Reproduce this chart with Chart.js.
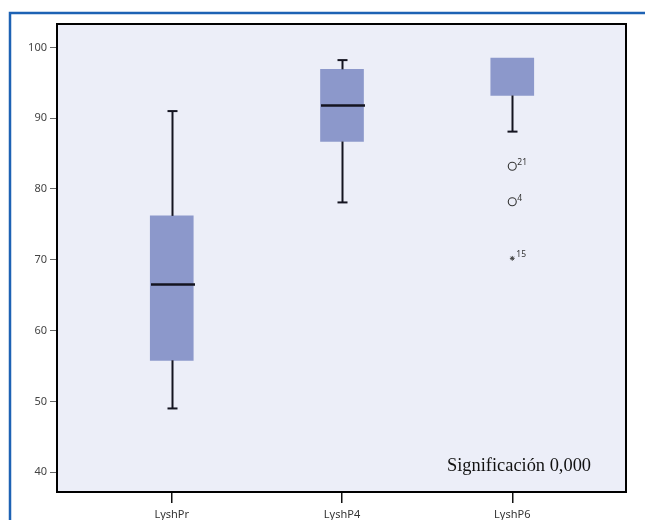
<!DOCTYPE html>
<html>
<head>
<meta charset="utf-8">
<script src="https://cdn.jsdelivr.net/npm/chart.js@4/dist/chart.umd.min.js"></script>
<style>
  html, body { margin: 0; padding: 0; background: #fff; }
  #wrap { width: 645px; height: 520px; position: relative; }
</style>
</head>
<body>
<div id="wrap"><canvas id="c" width="645" height="520"></canvas></div>
<script>
// Box-plot summaries per group
const groups = ['LyshPr', 'LyshP4', 'LyshP6'];
const whiskerLow = [49.0, 78.1, 88.1];
const q1 = [55.8, 86.7, 93.2];
const medians = [66.5, 91.8, null];
const q3 = [76.2, 96.9, 98.5];
const whiskerHigh = [91.0, 98.2, 98.5];

// Outliers (o) and extremes (*) with their case numbers
const outlierGroup = [3, 3];
const outlierValues = [83.2, 78.2];
const outlierCases = ['21', '4'];
const extremeGroup = [3];
const extremeValues = [70.2];
const extremeCases = ['15'];

const yTicks = [40, 50, 60, 70, 80, 90, 100];
const note = 'Significación 0,000';

const INK = '#141420';

// Page frame and plot background
const framePlugin = {
  id: 'frame',
  beforeDraw(chart) {
    const { ctx, chartArea: a } = chart;
    ctx.save();
    ctx.fillStyle = '#ffffff';
    ctx.fillRect(0, 0, chart.width, chart.height);
    ctx.fillStyle = '#eceef8';
    ctx.fillRect(a.left, a.top, a.right - a.left, a.bottom - a.top);
    ctx.strokeStyle = '#1d62b4';
    ctx.lineWidth = 2.5;
    ctx.beginPath();
    ctx.moveTo(10, chart.height);
    ctx.lineTo(10, 13);
    ctx.lineTo(chart.width, 13);
    ctx.stroke();
    ctx.restore();
  }
};

// Whiskers, caps and medians drawn on the chart's scales
const boxPartsPlugin = {
  id: 'boxParts',
  afterDatasetsDraw(chart) {
    const { ctx, scales: { x, y } } = chart;
    const halfBox = 21.5, halfCap = 5;
    ctx.save();
    ctx.strokeStyle = INK;
    ctx.lineWidth = 2;
    groups.forEach((g, i) => {
      const cx = Math.round(x.getPixelForValue(i + 1)) + 0.5;
      const lines = [];
      if (whiskerHigh[i] > q3[i]) {
        lines.push([cx, y.getPixelForValue(q3[i]), cx, y.getPixelForValue(whiskerHigh[i])]);
        lines.push([cx - halfCap, y.getPixelForValue(whiskerHigh[i]), cx + halfCap, y.getPixelForValue(whiskerHigh[i])]);
      }
      if (whiskerLow[i] < q1[i]) {
        lines.push([cx, y.getPixelForValue(q1[i]), cx, y.getPixelForValue(whiskerLow[i])]);
        lines.push([cx - halfCap, y.getPixelForValue(whiskerLow[i]), cx + halfCap, y.getPixelForValue(whiskerLow[i])]);
      }
      lines.forEach(([x1, y1, x2, y2]) => {
        ctx.beginPath();
        ctx.moveTo(x1, y1);
        ctx.lineTo(x2, y2);
        ctx.stroke();
      });
      if (medians[i] !== null) {
        const my = y.getPixelForValue(medians[i]);
        ctx.lineWidth = 2.5;
        ctx.beginPath();
        ctx.moveTo(cx - halfBox, my);
        ctx.lineTo(cx + halfBox + 1, my);
        ctx.stroke();
        ctx.lineWidth = 2;
      }
    });
    ctx.restore();
  },
  afterDraw(chart) {
    const { ctx, chartArea: a, scales: { x, y } } = chart;
    ctx.save();
    // plot border
    ctx.strokeStyle = '#000';
    ctx.lineWidth = 2;
    ctx.strokeRect(a.left, a.top, a.right - a.left, a.bottom - a.top);
    // case numbers beside outliers
    ctx.fillStyle = '#333';
    ctx.font = '8.5px "Noto Sans", sans-serif';
    ctx.textBaseline = 'alphabetic';
    ctx.textAlign = 'left';
    outlierValues.forEach((v, i) => {
      ctx.fillText(outlierCases[i], x.getPixelForValue(outlierGroup[i]) + 5, y.getPixelForValue(v) - 1);
    });
    extremeValues.forEach((v, i) => {
      ctx.fillText(extremeCases[i], x.getPixelForValue(extremeGroup[i]) + 4, y.getPixelForValue(v) - 1);
    });
    // significance note
    ctx.fillStyle = '#111';
    ctx.font = '18.4px "Liberation Serif", serif';
    ctx.fillText(note, 447, 471);
    ctx.restore();
  }
};

new Chart(document.getElementById('c'), {
  type: 'bar',
  data: {
    datasets: [
      {
        label: 'box',
        data: groups.map((g, i) => ({ x: i + 1, y: [q1[i], q3[i]] })),
        backgroundColor: '#8c98cb',
        borderWidth: 0,
        barThickness: 43,
        order: 2
      },
      {
        type: 'scatter',
        label: 'outliers',
        data: outlierValues.map((v, i) => ({ x: outlierGroup[i], y: v })),
        pointStyle: 'circle',
        pointRadius: 4,
        pointBorderWidth: 1.1,
        pointBorderColor: '#333',
        pointBackgroundColor: 'rgba(0,0,0,0)',
        order: 1
      },
      {
        type: 'scatter',
        label: 'extremes',
        data: extremeValues.map((v, i) => ({ x: extremeGroup[i], y: v })),
        pointStyle: 'star',
        pointRadius: 2.4,
        pointBorderWidth: 1,
        pointBorderColor: '#444',
        order: 1
      }
    ]
  },
  options: {
    responsive: false,
    devicePixelRatio: 1,
    animation: false,
    layout: { padding: { top: 24, right: 19, left: 0, bottom: 0 } },
    plugins: { legend: { display: false }, tooltip: { enabled: false } },
    scales: {
      x: {
        type: 'linear',
        min: 0.326,
        max: 3.668,
        offset: false,
        afterBuildTicks(axis) { axis.ticks = groups.map((g, i) => ({ value: i + 1 })); },
        afterFit(axis) { axis.height = 28; },
        grid: { offset: false, drawOnChartArea: false, drawTicks: true, tickLength: 11, color: '#111', lineWidth: 1.5 },
        border: { display: false },
        ticks: {
          padding: 5,
          color: '#333',
          font: { family: 'Noto Sans', size: 11 },
          callback: (v) => groups[v - 1] ?? ''
        }
      },
      y: {
        type: 'linear',
        min: 37.2,
        max: 103.3,
        afterBuildTicks(axis) { axis.ticks = yTicks.map(v => ({ value: v })); },
        afterFit(axis) { axis.width = 57; },
        grid: { drawOnChartArea: false, drawTicks: true, tickLength: 7, color: '#666', lineWidth: 1 },
        border: { display: false },
        ticks: {
          padding: 3,
          color: '#444',
          font: { family: 'Noto Sans', size: 11 }
        }
      }
    }
  },
  plugins: [framePlugin, boxPartsPlugin]
});
</script>
</body>
</html>
